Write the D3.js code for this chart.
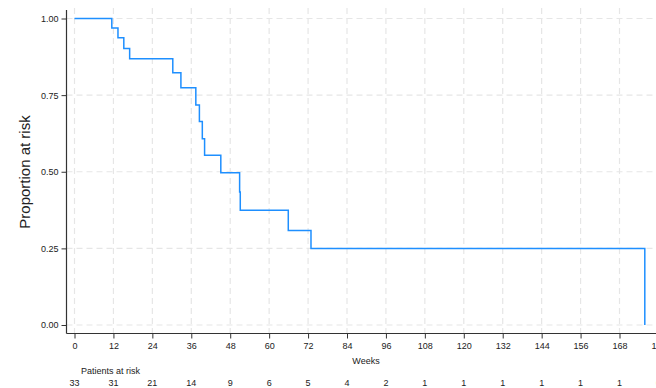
<!DOCTYPE html>
<html>
<head>
<meta charset="utf-8">
<script src="https://cdn.jsdelivr.net/npm/d3@7"></script>
<style>
  html, body { margin: 0; padding: 0; background: #fff; }
  svg { display: block; font-family: "Liberation Sans", Arial, Helvetica, sans-serif; }
</style>
</head>
<body>
<svg id="chart" width="656" height="388"></svg>
<script>
// Kaplan-Meier step estimate: time of each step (weeks) and the proportion after it
const stepWeeks = [0, 11.5, 13.4, 15.2, 17.0, 30.3, 32.8, 37.4, 38.5, 39.4, 40.1, 45.1, 50.9, 51.1, 65.9, 72.9, 175.8];
const proportion = [1.0, 0.969, 0.937, 0.902, 0.869, 0.823, 0.774, 0.718, 0.664, 0.608, 0.554, 0.497, 0.434, 0.374, 0.308, 0.25, 0.0];

// Axis ticks
const weekTicks = [0, 12, 24, 36, 48, 60, 72, 84, 96, 108, 120, 132, 144, 156, 168, 180];
const proportionTicks = [0, 0.25, 0.5, 0.75, 1.0];

// Number at risk at each week tick
const atRisk = [33, 31, 21, 14, 9, 6, 5, 4, 2, 1, 1, 1, 1, 1, 1, 0];

const svg = d3.select("#chart");
const W = 656, H = 388;

const axisX = 66.5;     // left edge of plot region (y axis)
const axisY = 333.5;    // bottom edge of plot region (x axis)
const plotTop = 8;

const x = d3.scaleLinear().domain([0, 168]).range([74.5, 619.5]);
const y = d3.scaleLinear().domain([0, 1]).range([325, 18.5]);

const textColor = "#222";

// Grid
const grid = svg.append("g")
  .attr("stroke", "#e6e6e6")
  .attr("stroke-width", 1.2)
  .attr("stroke-dasharray", "6,4")
  .attr("fill", "none");

grid.selectAll("line.v").data(weekTicks).join("line")
  .attr("class", "v")
  .attr("x1", d => x(d)).attr("x2", d => x(d))
  .attr("y1", plotTop).attr("y2", axisY);

grid.selectAll("line.h").data(proportionTicks).join("line")
  .attr("class", "h")
  .attr("x1", axisX).attr("x2", W)
  .attr("y1", d => y(d)).attr("y2", d => y(d));

// Survival curve
const line = d3.line()
  .x((d, i) => x(stepWeeks[i]))
  .y(d => y(d))
  .curve(d3.curveStepAfter);

svg.append("path")
  .datum(proportion)
  .attr("fill", "none")
  .attr("stroke", "#1E8FFF")
  .attr("stroke-width", 1.5)
  .attr("d", line);

// Y axis
const yAxis = d3.axisLeft(y)
  .tickValues(proportionTicks)
  .tickFormat(d3.format(".2f"))
  .tickSize(5)
  .tickPadding(3);

const gy = svg.append("g")
  .attr("transform", `translate(${axisX},0)`)
  .call(yAxis);
gy.select(".domain").remove();
gy.selectAll(".tick line").attr("stroke", "#333");
gy.selectAll(".tick text")
  .attr("fill", textColor)
  .style("font-size", "9px")
  .style("font-family", "'Liberation Sans', Arial, sans-serif");

svg.append("line")
  .attr("x1", axisX).attr("x2", axisX)
  .attr("y1", 10).attr("y2", axisY)
  .attr("stroke", "#333").attr("stroke-width", 1.2);

// X axis
const xAxis = d3.axisBottom(x)
  .tickValues(weekTicks)
  .tickFormat(d3.format("d"))
  .tickSize(5)
  .tickPadding(4);

const gx = svg.append("g")
  .attr("transform", `translate(0,${axisY})`)
  .call(xAxis);
gx.select(".domain").remove();
gx.selectAll(".tick line").attr("stroke", "#333");
gx.selectAll(".tick text")
  .attr("fill", textColor)
  .style("font-size", "9px")
  .style("font-family", "'Liberation Sans', Arial, sans-serif");

svg.append("line")
  .attr("x1", axisX).attr("x2", W)
  .attr("y1", axisY).attr("y2", axisY)
  .attr("stroke", "#333").attr("stroke-width", 1.2);

// Axis titles
svg.append("text")
  .attr("transform", `translate(30,${172}) rotate(-90)`)
  .attr("text-anchor", "middle")
  .attr("fill", textColor)
  .style("font-size", "15px")
  .text("Proportion at risk");

svg.append("text")
  .attr("x", 366)
  .attr("y", 364)
  .attr("text-anchor", "middle")
  .attr("fill", textColor)
  .style("font-size", "9px")
  .text("Weeks");

// Risk table
svg.append("text")
  .attr("x", 81)
  .attr("y", 374)
  .attr("fill", textColor)
  .style("font-size", "9px")
  .text("Patients at risk");

svg.append("g").selectAll("text").data(atRisk).join("text")
  .attr("x", (d, i) => x(weekTicks[i]))
  .attr("y", 386)
  .attr("text-anchor", "middle")
  .attr("fill", textColor)
  .style("font-size", "9px")
  .text(d => d);
</script>
</body>
</html>
